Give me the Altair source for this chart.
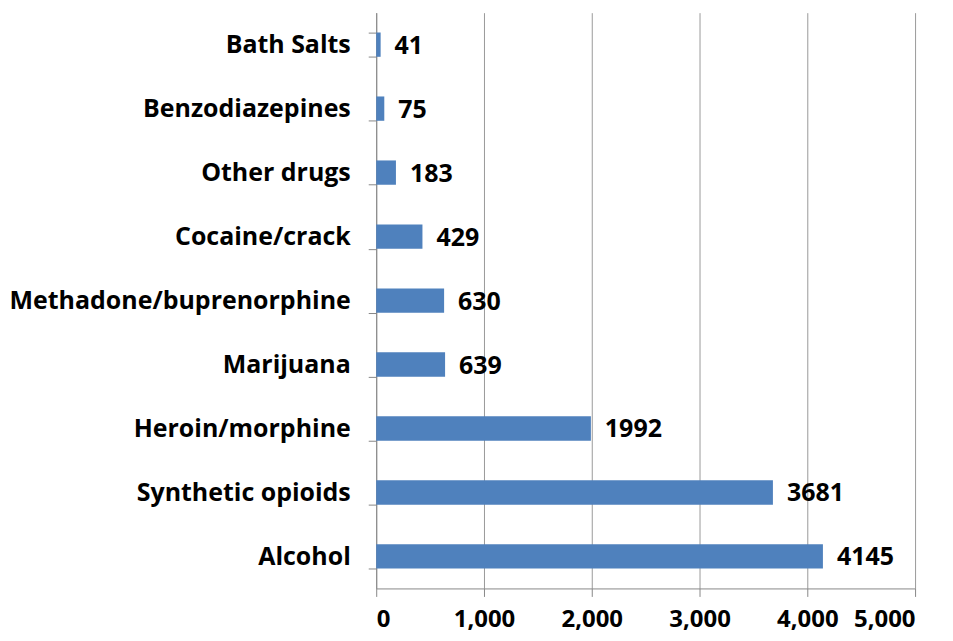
import altair as alt
import pandas as pd

categories = ["Bath Salts", "Benzodiazepines", "Other drugs", "Cocaine/crack",
              "Methadone/buprenorphine", "Marijuana", "Heroin/morphine",
              "Synthetic opioids", "Alcohol"]
values = [41, 75, 183, 429, 630, 639, 1992, 3681, 4145]

df = pd.DataFrame({"drug": categories, "count": values})

FONT = "Open Sans"
FS = 25

y = alt.Y("drug:N", sort=categories, title=None,
          scale=alt.Scale(paddingInner=0.62, paddingOuter=0.31),
          axis=alt.Axis(labelFont=FONT, labelFontWeight="bold", labelFontSize=FS,
                        labelColor="black", labelPadding=18, labelLimit=500,
                        tickBand="extent",
                        tickSize=8, tickColor="#888888", domainColor="#888888",
                        ticks=True, grid=False))
x = alt.X("count:Q", title=None,
          scale=alt.Scale(domain=[0, 5000], nice=False),
          axis=alt.Axis(values=[0, 1000, 2000, 3000, 4000, 5000], format=",d",
                        labelFont=FONT, labelFontWeight="bold", labelFontSize=24,
                        labelColor="black", labelPadding=11, tickSize=8,
                        tickColor="#888888", domainColor="#888888",
                        grid=True, gridColor="#9a9a9a", gridWidth=1))

bars = alt.Chart(df).mark_bar(color="#4F81BD").encode(x=x, y=y)
labels = alt.Chart(df).mark_text(align="left", baseline="middle", dx=14, dy=1,
                                 font=FONT, fontWeight="bold", fontSize=FS,
                                 color="black").encode(
    x="count:Q", y=alt.Y("drug:N", sort=categories), text="count:Q")

chart = (bars + labels).properties(
    width=540, height=577,
    autosize=alt.AutoSizeParams(type="none"),
    padding={"left": 369, "top": 4, "right": 30, "bottom": 48},
).configure_view(stroke=None)

chart.save("out.html", embed_options={"renderer": "svg", "actions": False})
